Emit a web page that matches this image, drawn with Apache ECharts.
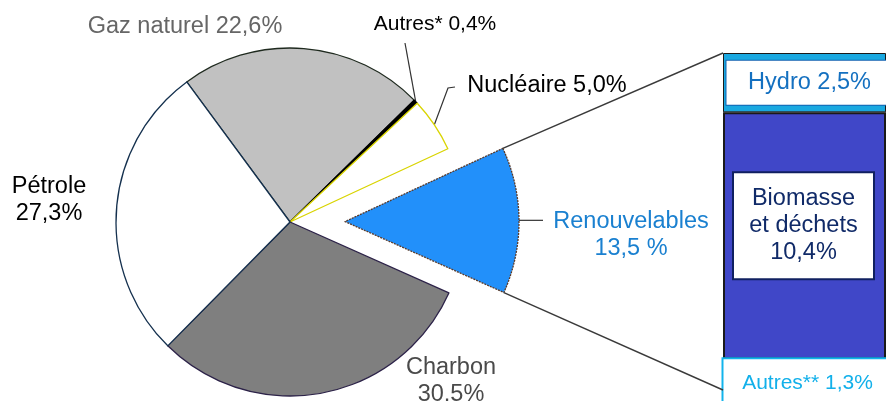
<!DOCTYPE html>
<html>
<head>
<meta charset="utf-8">
<script src="https://cdn.jsdelivr.net/npm/echarts@6/dist/echarts.min.js"></script>
<style>
  html, body { margin: 0; padding: 0; background: #fff; }
  #main { width: 886px; height: 401px; }
</style>
</head>
<body>
<div id="main"></div>
<script>
// parts de l'énergie primaire (%)
const sources = ['Gaz naturel', 'Autres*', 'Nucléaire', 'Renouvelables', 'Charbon', 'Pétrole']
const shares = [22.6, 0.4, 5.0, 13.5, 30.5, 27.3]
// détail des renouvelables (%)
const renewables = ['Hydro', 'Biomasse\net déchets', 'Autres**']
const renewableShares = [2.5, 10.4, 1.3]

const FONT = "'Liberation Sans', Arial, Helvetica, sans-serif"
const CX = 290
const CY = 222
const R = 174
const START = 126.4
const OFFSET = 55
const EXPLODED = 'Renouvelables'
const fmt = v => v.toFixed(1).replace('.', ',')
const sum = arr => arr.reduce((a, b) => a + b, 0)

const pieLook = {
  'Gaz naturel': { fill: '#c1c1c1', border: '#1f2a1f', text: '#666666', sep: ' ', pct: '%' },
  'Autres*': { fill: '#000000', border: '#000000', text: '#000000', sep: ' ', pct: '%', size: 21 },
  'Nucléaire': { fill: '#ffffff', border: '#d9d400', text: '#000000', sep: ' ', pct: '%' },
  'Renouvelables': { fill: '#2290fa', border: '#5a3b2b', text: '#1a80d0', sep: '\n', pct: ' %', dash: [2, 1] },
  'Charbon': { fill: '#7f7f7f', border: '#2c2248', text: '#4a4a4a', sep: '\n', pct: '%' },
  'Pétrole': { fill: '#ffffff', border: '#14304e', text: '#000000', sep: '\n', pct: '%' }
}
// centre des étiquettes
const labelPos = {
  'Gaz naturel': [185, 27],
  'Autres*': [435, 24],
  'Nucléaire': [547, 86],
  'Renouvelables': [631, 235],
  'Charbon': [451, 381],
  'Pétrole': [49, 200]
}
// traits de rappel (à partir du point d'ancrage sur la part)
const leader = {
  'Autres*': (p, x, y) => [p, [(p[0] + x - 30) / 2, (p[1] + y + 19) / 2], [x - 30, y + 19]],
  'Nucléaire': (p, x, y) => [p, [x - 99, y + 2], [x - 92, y + 1]],
  'Renouvelables': (p, x, y) => [p, [(p[0] + x - 88) / 2, p[1]], [x - 88, p[1]]]
}

const barLook = [
  { fill: '#19a8e0', border: '#1a1a1a', text: '#1470c0', box: '#1060b0', boxW: 166, pad: [11, 0, 11, 0], size: 23.5, pos: 'inside', offset: [5, 0], bw: 1 },
  { fill: '#4047c8', border: '#1a1a1a', text: '#102a68', box: '#102060', boxW: 139, pad: [12, 0, 12, 0], size: 23.5, pos: 'inside', offset: [-1, -10], bw: 2 },
  { fill: '#ffffff', border: '#12b4ec', text: '#12b0ea', box: '#12b4ec', boxW: 168, pad: [13, 0, 22, 0], size: 21, pos: 'insideTop', offset: [3, 0], bw: 2 }
]

// centre décalé de la part éclatée
const iExp = sources.indexOf(EXPLODED)
const midDeg = START - (sum(shares.slice(0, iExp)) + shares[iExp] / 2) / sum(shares) * 360
const expCenter = [CX + OFFSET * Math.cos(midDeg * Math.PI / 180), CY - OFFSET * Math.sin(midDeg * Math.PI / 180)]

const hidden = { itemStyle: { color: 'rgba(0,0,0,0)', borderWidth: 0 }, label: { show: false }, labelLine: { show: false } }

function pieItem (name, i, visible) {
  if (!visible) return Object.assign({ name, value: shares[i] }, hidden)
  const s = pieLook[name]
  return {
    name,
    value: shares[i],
    itemStyle: { color: s.fill, borderColor: s.border, borderWidth: 1.3, borderType: s.dash || 'solid' },
    label: {
      color: s.text,
      fontSize: s.size || 23.5,
      formatter: name + s.sep + fmt(shares[i]) + s.pct
    },
    labelLine: {
      show: !!leader[name],
      lineStyle: { color: '#333', width: 1.2 }
    }
  }
}

function placeLabel (params) {
  const name = sources[params.dataIndex]
  const p = labelPos[name]
  const out = { x: p[0], y: p[1], align: 'center', verticalAlign: 'middle' }
  if (leader[name] && params.labelLinePoints) {
    out.labelLinePoints = leader[name](params.labelLinePoints[0], p[0], p[1])
  }
  return out
}

function pieSeries (center, keep) {
  return {
    type: 'pie',
    center,
    radius: R,
    startAngle: START,
    clockwise: true,
    avoidLabelOverlap: false,
    silent: true,
    label: { show: true, position: 'outside', fontFamily: FONT, fontSize: 23.5, lineHeight: 27, align: 'center' },
    labelLine: { length: 12, length2: 8 },
    labelLayout: placeLabel,
    data: sources.map((name, i) => pieItem(name, i, keep(name)))
  }
}

const chart = echarts.init(document.getElementById('main'))

chart.setOption({
  animation: false,
  grid: { left: 723, top: 53, width: 170, height: 337 },
  xAxis: { type: 'category', data: [EXPLODED], show: false },
  yAxis: { type: 'value', min: 0, max: sum(renewableShares), inverse: true, show: false },
  series: [
    pieSeries([CX, CY], n => n !== EXPLODED),
    pieSeries(expCenter, n => n === EXPLODED)
  ].concat(renewables.map((name, i) => {
    const b = barLook[i]
    return {
      type: 'bar',
      stack: 'renouv',
      barWidth: '100%',
      silent: true,
      itemStyle: { color: b.fill, borderColor: b.border, borderWidth: b.bw },
      label: {
        show: true,
        position: b.pos,
        distance: 0,
        offset: b.offset,
        formatter: name + (i === 1 ? '\n' : ' ') + fmt(renewableShares[i]) + '%',
        fontFamily: FONT,
        fontSize: b.size,
        lineHeight: i === 1 ? 27 : 22,
        color: b.text,
        align: 'center',
        width: b.boxW,
        overflow: 'none',
        backgroundColor: '#fff',
        borderColor: b.box,
        borderWidth: i === 0 ? 1 : 2,
        padding: b.pad
      },
      data: [renewableShares[i]]
    }
  }))
})

// lignes entre la part éclatée et la colonne
const model = chart.getModel()
const sl = model.getSeriesByIndex(1).getData().getItemLayout(iExp)
const a1 = Math.min(sl.startAngle, sl.endAngle)
const a2 = Math.max(sl.startAngle, sl.endAngle)
const topBar = model.getSeriesByIndex(2).getData().getItemLayout(0)
const botBar = model.getSeriesByIndex(4).getData().getItemLayout(0)
const barLeft = Math.min(topBar.x, topBar.x + topBar.width)
const barTop = Math.min(topBar.y, topBar.y + topBar.height)
const barBottom = Math.max(botBar.y, botBar.y + botBar.height)

const lineStyle = { stroke: '#3a3a3a', lineWidth: 1.4 }
chart.setOption({
  graphic: [
    { type: 'line', z: 10, shape: { x1: sl.cx + sl.r * Math.cos(a1), y1: sl.cy + sl.r * Math.sin(a1), x2: barLeft, y2: barTop }, style: lineStyle },
    { type: 'line', z: 10, shape: { x1: sl.cx + sl.r * Math.cos(a2), y1: sl.cy + sl.r * Math.sin(a2), x2: barLeft, y2: barBottom }, style: lineStyle }
  ]
})
</script>
</body>
</html>
